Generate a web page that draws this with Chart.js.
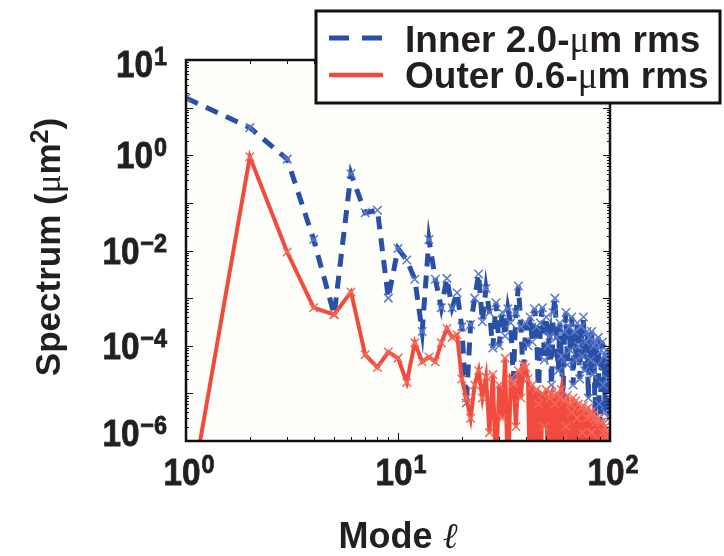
<!DOCTYPE html>
<html>
<head>
<meta charset="utf-8">
<script src="https://cdn.jsdelivr.net/npm/chart.js@4.4.1/dist/chart.umd.min.js"></script>
<style>
  html, body { margin: 0; padding: 0; background: #fff; }
  #wrap { width: 724px; height: 556px; }
</style>
</head>
<body>
<div id="wrap"><canvas id="spectrum-chart" width="724" height="556"></canvas></div>
<script>
// Mode numbers l = 1..100
const modes = Array.from({ length: 100 }, (_, i) => i + 1);

// Inner shell, 2.0-um rms (blue dashed)
const innerSpectrum = [
    1.6e1, 3.8, 8.3e-1, 1.7e-2, 4.5e-4, 4.1e-1, 6.2e-2, 7.0e-2, 1.0e-3, 1.1e-2,
    6.3e-3, 2.5e-3, 2.0e-4, 1.7e-2, 2.5e-3, 6.3e-4, 2.6e-3, 6.3e-4, 1.3e-3, 2.5e-4,
    6.3e-6, 2.8e-4, 1.0e-3, 3.2e-3, 3.2e-4, 1.6e-3, 5.0e-4, 9.0e-5, 8.0e-4, 1.0e-4,
    5.0e-4, 1.6e-4, 6.0e-4, 3.0e-4, 2.0e-5, 5.0e-4, 1.8e-3, 2.5e-4, 2.0e-5, 3.0e-4,
    1.0e-4, 4.0e-4, 1.2e-4, 6.0e-4, 2.5e-4, 8.0e-6, 3.0e-4, 6.3e-4, 5.0e-5, 4.0e-4,
    1.0e-4, 1.6e-4, 1.5e-5, 5.0e-4, 1.0e-3, 1.5e-4, 3.0e-5, 3.0e-4, 6.0e-5, 8.0e-6,
    2.0e-4, 5.0e-4, 4.0e-5, 2.5e-4, 8.0e-5, 4.0e-4, 1.5e-5, 2.0e-4, 5.0e-5, 3.0e-4,
    1.0e-4, 2.0e-5, 2.5e-4, 6.0e-5, 4.0e-4, 3.0e-5, 1.2e-4, 2.0e-4, 8.0e-6, 1.5e-4,
    5.0e-5, 2.0e-4, 2.5e-5, 1.0e-4, 3.0e-6, 1.2e-4, 4.0e-5, 1.5e-4, 6.0e-6, 2.0e-6,
    8.0e-5, 1.2e-4, 1.5e-5, 6.0e-5, 4.0e-6, 8.0e-5, 2.0e-5, 5.0e-5, 3.0e-6, 7.0e-5
];

// Outer shell, 0.6-um rms (red solid)
const outerSpectrum = [
    2.0e-8, 9.3e-1, 9.3e-3, 6.3e-4, 4.5e-4, 1.35e-3, 6.5e-5, 3.5e-5, 7.4e-5, 5.5e-5,
    1.7e-5, 1.15e-4, 4.6e-5, 5.8e-5, 4.6e-5, 1.15e-4, 2.3e-4, 1.5e-4, 1.7e-4, 2.0e-5,
    8.0e-6, 3.0e-6, 1.5e-5, 3.0e-5, 8.0e-6, 2.2e-5, 1.5e-6, 2.5e-5, 2.0e-7, 1.5e-5,
    3.0e-6, 5.5e-5, 1.0e-7, 2.0e-5, 1.6e-5, 2.0e-6, 3.0e-5, 8.0e-6, 4.0e-5, 3.5e-5,
    2.0e-5, 1.0e-7, 1.5e-5, 1.0e-7, 1.2e-5, 6.0e-6, 1.0e-7, 1.0e-5, 2.0e-6, 1.2e-5,
    1.0e-7, 8.0e-6, 1.0e-5, 1.0e-7, 6.0e-6, 1.0e-5, 5.0e-7, 8.0e-6, 1.2e-5, 1.0e-7,
    7.0e-6, 2.0e-6, 9.0e-6, 1.0e-7, 6.0e-6, 4.0e-6, 8.0e-6, 1.0e-7, 7.0e-6, 3.0e-6,
    6.0e-6, 1.0e-7, 5.0e-6, 1.5e-6, 5.5e-6, 1.0e-7, 4.5e-6, 3.0e-6, 5.0e-6, 1.0e-7,
    4.0e-6, 1.5e-6, 3.5e-6, 1.0e-7, 3.0e-6, 2.5e-6, 1.0e-7, 3.0e-6, 1.0e-6, 2.5e-6,
    1.0e-7, 2.5e-6, 1.5e-6, 1.0e-7, 2.0e-6, 1.2e-6, 1.0e-7, 1.5e-6, 1.0e-7, 1.0e-6
];

// Tick labels as printed on the figure
const xTickValues = [1, 10, 100];
const xTickExps = ['0', '1', '2'];
const yTickValues = [1e2, 1e0, 1e-2, 1e-4, 1e-6];
const yTickExps = ['1', '0', '\u22122', '\u22124', '\u22126'];

const legendLabels = ['Inner 2.0-', 'Outer 0.6-'];

const BLUE = '#2a4fa6';
const RED = '#f04b3c';
const FONT = '"Liberation Sans", Arial, sans-serif';

// draws "10" with a raised exponent; y is the middle of the digits
function drawPower(ctx, exp, x, y, align) {
    const big = 37, small = 26, squash = 0.9;
    ctx.save();
    ctx.translate(x, y);
    ctx.scale(squash, 1);
    ctx.fillStyle = '#231f20';
    ctx.strokeStyle = '#231f20';
    ctx.lineWidth = 0.8;
    ctx.textBaseline = 'alphabetic';
    ctx.textAlign = 'left';
    ctx.font = `bold ${big}px ${FONT}`;
    const wb = ctx.measureText('10').width;
    ctx.font = `bold ${small}px ${FONT}`;
    const we = ctx.measureText(exp).width;
    const total = wb + we + 1;
    let sx = 0;
    if (align === 'right') sx = -total;
    else if (align === 'center') sx = -total / 2;
    ctx.font = `bold ${big}px ${FONT}`;
    ctx.fillText('10', sx, 13);
    ctx.strokeText('10', sx, 13);
    ctx.font = `bold ${small}px ${FONT}`;
    ctx.fillText(exp, sx + wb + 1, 1);
    ctx.strokeText(exp, sx + wb + 1, 1);
    ctx.restore();
}

const figurePlugin = {
    id: 'figure',
    beforeDraw(chart) {
        const { ctx, chartArea: a } = chart;
        ctx.save();
        ctx.fillStyle = '#fefefb';
        ctx.fillRect(a.left, a.top, a.right - a.left, a.bottom - a.top);
        ctx.restore();
    },
    afterDraw(chart) {
        const { ctx, chartArea: a } = chart;
        const xs = chart.scales.x, ys = chart.scales.y;
        ctx.save();

        // frame
        ctx.strokeStyle = '#111';
        ctx.lineWidth = 2.5;
        ctx.strokeRect(a.left, a.top, a.right - a.left, a.bottom - a.top);

        // inward ticks
        ctx.lineWidth = 1;
        for (let d = 1; d <= 100; d *= 10) {
            for (let k = 1; k <= 9; k++) {
                const v = k * d;
                if (v > 100) break;
                const px = Math.round(xs.getPixelForValue(v)) + 0.5;
                const len = k === 1 ? 8 : 4;
                ctx.beginPath();
                ctx.moveTo(px, a.bottom); ctx.lineTo(px, a.bottom - len);
                ctx.moveTo(px, a.top); ctx.lineTo(px, a.top + len);
                ctx.stroke();
            }
        }
        for (let e = -6; e <= 2; e++) {
            for (let k = 1; k <= 9; k++) {
                const v = k * Math.pow(10, e);
                if (v > 100) break;
                const py = Math.round(ys.getPixelForValue(v)) + 0.5;
                const len = k === 1 ? 7 : 3;
                ctx.beginPath();
                ctx.moveTo(a.left, py); ctx.lineTo(a.left + len, py);
                ctx.moveTo(a.right, py); ctx.lineTo(a.right - len, py);
                ctx.stroke();
            }
        }

        // tick labels
        xTickValues.forEach((v, i) => {
            drawPower(ctx, xTickExps[i], xs.getPixelForValue(v) + 3, 472, 'center');
        });
        yTickValues.forEach((v, i) => {
            const py = Math.min(433, Math.max(64, ys.getPixelForValue(v)));
            drawPower(ctx, yTickExps[i], 167, py, 'right');
        });

        // x title
        ctx.fillStyle = '#231f20';
        ctx.textBaseline = 'alphabetic';
        ctx.textAlign = 'left';
        ctx.font = `bold 36px ${FONT}`;
        const wMode = ctx.measureText('Mode ').width;
        ctx.font = `italic 36px "DejaVu Serif", serif`;
        const wEll = ctx.measureText('\u2113').width;
        let tx = 398 - (wMode + wEll) / 2;
        ctx.font = `bold 36px ${FONT}`;
        ctx.fillText('Mode ', tx, 548);
        ctx.font = `italic 36px "DejaVu Serif", serif`;
        ctx.fillText('\u2113', tx + wMode, 548);

        // y title, rotated
        ctx.save();
        ctx.translate(60, 247);
        ctx.rotate(-Math.PI / 2);
        const parts = [
            ['Spectrum (', `bold 35px ${FONT}`, 0],
            ['\u03bc', `35px "Liberation Serif", serif`, 0],
            ['m', `bold 35px ${FONT}`, 0],
            ['2', `bold 25px ${FONT}`, -12],
            [')', `bold 35px ${FONT}`, 0]
        ];
        let total = 0;
        parts.forEach(p => { ctx.font = p[1]; total += ctx.measureText(p[0]).width; });
        let px0 = -total / 2;
        parts.forEach(p => {
            ctx.font = p[1];
            ctx.fillText(p[0], px0, p[2]);
            px0 += ctx.measureText(p[0]).width;
        });
        ctx.restore();

        // legend box
        ctx.fillStyle = '#fff';
        ctx.fillRect(316, 11, 404, 92);
        ctx.strokeStyle = '#111';
        ctx.lineWidth = 3;
        ctx.strokeRect(316, 11, 404, 92);

        ctx.lineCap = 'butt';
        ctx.strokeStyle = BLUE;
        ctx.lineWidth = 5;
        ctx.setLineDash([20, 13]);
        ctx.beginPath(); ctx.moveTo(329, 38); ctx.lineTo(383, 38); ctx.stroke();
        ctx.setLineDash([]);
        ctx.strokeStyle = RED;
        ctx.lineWidth = 4.5;
        ctx.beginPath(); ctx.moveTo(329, 75); ctx.lineTo(383, 75); ctx.stroke();

        ctx.fillStyle = '#231f20';
        [52, 88].forEach((by, i) => {
            let lx = 405;
            ctx.font = `bold 37px ${FONT}`;
            ctx.fillText(legendLabels[i], lx, by);
            lx += ctx.measureText(legendLabels[i]).width;
            ctx.font = `37px "Liberation Serif", serif`;
            ctx.fillText('\u03bc', lx, by);
            lx += ctx.measureText('\u03bc').width;
            ctx.font = `bold 37px ${FONT}`;
            ctx.fillText('m rms', lx, by);
        });

        ctx.restore();
    }
};

function toPoints(values) {
    return modes.map((m, i) => ({ x: m, y: values[i] }));
}

new Chart(document.getElementById('spectrum-chart'), {
    type: 'line',
    data: {
        datasets: [{
            label: 'Inner 2.0-\u03bcm rms',
            data: toPoints(innerSpectrum),
            borderColor: BLUE,
            borderWidth: 5,
            borderDash: [13, 9],
            pointStyle: 'crossRot',
            pointRadius: 6,
            pointBorderWidth: 1.5,
            pointBorderColor: '#5a79c9',
            tension: 0,
            order: 2
        }, {
            label: 'Outer 0.6-\u03bcm rms',
            data: toPoints(outerSpectrum),
            borderColor: RED,
            borderWidth: 4,
            pointStyle: 'crossRot',
            pointRadius: 6,
            pointBorderWidth: 1.5,
            pointBorderColor: '#f4695b',
            tension: 0,
            order: 1
        }]
    },
    options: {
        responsive: false,
        animation: false,
        layout: { padding: { left: 186, right: 114, top: 60, bottom: 115 } },
        scales: {
            x: { type: 'logarithmic', min: 1, max: 100, display: false },
            y: { type: 'logarithmic', min: 1e-6, max: 1e2, display: false }
        },
        plugins: {
            legend: { display: false },
            tooltip: { enabled: false }
        }
    },
    plugins: [figurePlugin]
});
</script>
</body>
</html>
